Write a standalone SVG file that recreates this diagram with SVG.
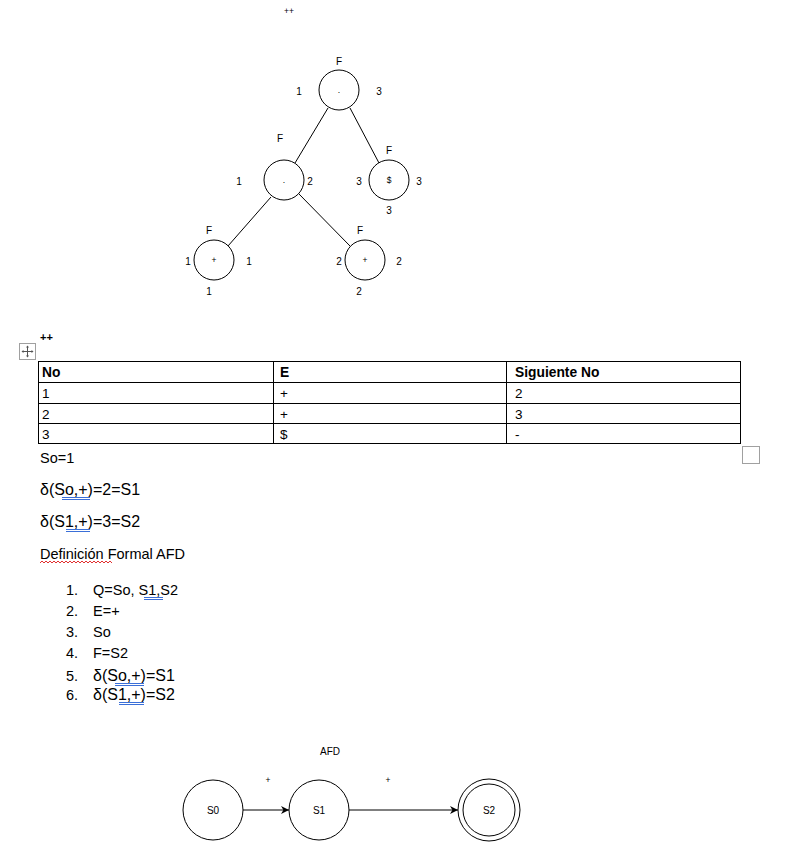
<svg xmlns="http://www.w3.org/2000/svg" width="789" height="842" viewBox="0 0 789 842">
<defs>
<style>
.bg{fill:#fff}
.node{fill:#fff;stroke:#000;stroke-width:1}
.edge{stroke:#000;stroke-width:1;fill:none}
.lbl{font-family:"Liberation Sans",Arial,sans-serif;font-size:10px;fill:#000;text-anchor:middle}
.in{font-family:"Liberation Sans",Arial,sans-serif;font-size:8.5px;fill:#000;text-anchor:middle}
.tb{font-family:"Liberation Sans",Arial,sans-serif;font-size:13.5px;fill:#000}
.tbb{font-family:"Liberation Sans",Arial,sans-serif;font-size:13.8px;font-weight:bold;fill:#000}
.ar{font-family:"Liberation Sans",Arial,sans-serif;font-size:16px;fill:#000}
.cal{font-family:"Liberation Sans",Arial,sans-serif;font-size:14.5px;fill:#000}
.grid{stroke:#000;stroke-width:1;fill:none}
.sp{stroke:#3a6fd8;stroke-width:1;fill:none}
.sq{stroke:#e03030;stroke-width:1;fill:none}
</style>
<marker id="arr" viewBox="0 0 10 10" refX="10" refY="5" markerWidth="8" markerHeight="8" orient="auto" markerUnits="userSpaceOnUse">
<path d="M0,0 L10,5 L0,10 L3,5 Z" fill="#000"/>
</marker>
</defs>
<rect class="bg" x="0" y="0" width="789" height="842"/>

<text class="in" x="289" y="14">++</text>

<g id="tree-edges">
<line class="edge" x1="328" y1="108" x2="295" y2="163"/>
<line class="edge" x1="350" y1="108" x2="379" y2="163"/>
<line class="edge" x1="271" y1="197" x2="228" y2="246"/>
<line class="edge" x1="299" y1="194" x2="350" y2="246"/>
</g>

<g id="root">
<circle class="node" cx="339" cy="90" r="20"/>
<text class="in" x="339" y="93">.</text>
<text class="lbl" x="339" y="65">F</text>
<text class="lbl" x="299" y="95">1</text>
<text class="lbl" x="379" y="95">3</text>
</g>
<g id="midleft">
<circle class="node" cx="284" cy="180" r="20"/>
<text class="in" x="284" y="183">.</text>
<text class="lbl" x="280" y="142">F</text>
<text class="lbl" x="239" y="185">1</text>
<text class="lbl" x="310" y="185">2</text>
</g>
<g id="dollar">
<circle class="node" cx="389" cy="180" r="20"/>
<text class="in" x="389" y="183">$</text>
<text class="lbl" x="389" y="154">F</text>
<text class="lbl" x="359" y="185">3</text>
<text class="lbl" x="419" y="185">3</text>
<text class="lbl" x="389" y="214">3</text>
</g>
<g id="plus1">
<circle class="node" cx="214" cy="260" r="20"/>
<text class="in" x="214" y="263">+</text>
<text class="lbl" x="209" y="234">F</text>
<text class="lbl" x="188" y="265">1</text>
<text class="lbl" x="249" y="265">1</text>
<text class="lbl" x="209" y="295">1</text>
</g>
<g id="plus2">
<circle class="node" cx="365" cy="260" r="20"/>
<text class="in" x="365" y="263">+</text>
<text class="lbl" x="360" y="234">F</text>
<text class="lbl" x="339" y="265">2</text>
<text class="lbl" x="399" y="265">2</text>
<text class="lbl" x="359" y="295">2</text>
</g>

<text class="tbb" x="40" y="341" style="font-size:11px">++</text>
<g id="move-icon">
<rect x="19.5" y="343.5" width="16" height="16" fill="#fff" stroke="#a0a0a0"/>
<path d="M27.5,346 V357 M22,351.5 H33" stroke="#555" stroke-width="1"/>
<path d="M27.5,345.5 l-1.5,2 h3 z M27.5,357.5 l-1.5,-2 h3 z M21.5,351.5 l2,-1.5 v3 z M33.5,351.5 l-2,-1.5 v3 z" fill="#555"/>
</g>

<g id="table">
<rect class="grid" x="38.5" y="361.5" width="702" height="82"/>
<line class="grid" x1="38" y1="382.5" x2="741" y2="382.5"/>
<line class="grid" x1="38" y1="403.5" x2="741" y2="403.5"/>
<line class="grid" x1="38" y1="423.5" x2="741" y2="423.5"/>
<line class="grid" x1="273.5" y1="361" x2="273.5" y2="444"/>
<line class="grid" x1="506.5" y1="361" x2="506.5" y2="444"/>
<text class="tbb" x="42" y="377">No</text>
<text class="tbb" x="280" y="377">E</text>
<text class="tbb" x="515" y="377">Siguiente No</text>
<text class="tb" x="42" y="398">1</text>
<text class="tb" x="280" y="398">+</text>
<text class="tb" x="515" y="398">2</text>
<text class="tb" x="42" y="419">2</text>
<text class="tb" x="280" y="419">+</text>
<text class="tb" x="515" y="419">3</text>
<text class="tb" x="42" y="439">3</text>
<text class="tb" x="280" y="439">$</text>
<text class="tb" x="515" y="439">-</text>
</g>
<rect x="742.5" y="446.5" width="17" height="17" fill="#fff" stroke="#a0a0a0"/>

<text class="cal" x="40" y="463">So=1</text>
<text class="ar" x="40" y="495">δ(So,+)=2=S1</text>
<path class="sp" d="M62,497.5 H90 M62,499.5 H90"/>
<text class="ar" x="40" y="527">δ(S1,+)=3=S2</text>
<path class="sp" d="M66,529.5 H90 M66,531.5 H90"/>
<text class="cal" x="40" y="559">Definición Formal AFD</text>
<path class="sq" d="M40,563 l2,-2 l2,2 l2,-2 l2,2 l2,-2 l2,2 l2,-2 l2,2 l2,-2 l2,2 l2,-2 l2,2 l2,-2 l2,2 l2,-2 l2,2 l2,-2 l2,2 l2,-2 l2,2 l2,-2 l2,2 l2,-2 l2,2 l2,-2 l2,2 l2,-2 l2,2 l2,-2 l2,2 l2,-2 l2,2 l2,-2 l2,2 l2,-2 l2,2"/>

<g id="list">
<text class="cal" x="66" y="595">1.</text><text class="cal" x="93" y="595">Q=So, S1,S2</text>
<path class="sp" d="M144,597.5 H163 M144,599.5 H163"/>
<text class="cal" x="66" y="616">2.</text><text class="cal" x="93" y="616">E=+</text>
<text class="cal" x="66" y="637">3.</text><text class="cal" x="93" y="637">So</text>
<text class="cal" x="66" y="658">4.</text><text class="cal" x="93" y="658">F=S2</text>
<text class="cal" x="66" y="681">5.</text><text class="ar" x="93" y="681">δ(So,+)=S1</text>
<path class="sp" d="M115,683.5 H144 M115,685.5 H144"/>
<text class="cal" x="66" y="700">6.</text><text class="ar" x="93" y="700">δ(S1,+)=S2</text>
<path class="sp" d="M119,702.5 H144 M119,704.5 H144"/>
</g>

<text class="lbl" x="330" y="755">AFD</text>

<g id="afd-edges">
<line class="edge" x1="243" y1="810" x2="289" y2="810" marker-end="url(#arr)"/>
<line class="edge" x1="349" y1="810" x2="458" y2="810" marker-end="url(#arr)"/>
<text class="in" x="268" y="783">+</text>
<text class="in" x="388" y="783">+</text>
</g>
<g id="S0">
<circle class="node" cx="213" cy="810" r="30"/>
<text class="lbl" x="213" y="814">S0</text>
</g>
<g id="S1">
<circle class="node" cx="319" cy="810" r="30"/>
<text class="lbl" x="319" y="814">S1</text>
</g>
<g id="S2">
<circle class="node" cx="489" cy="810" r="31"/>
<circle class="node" cx="489" cy="810" r="26"/>
<text class="lbl" x="489" y="814">S2</text>
</g>
</svg>
